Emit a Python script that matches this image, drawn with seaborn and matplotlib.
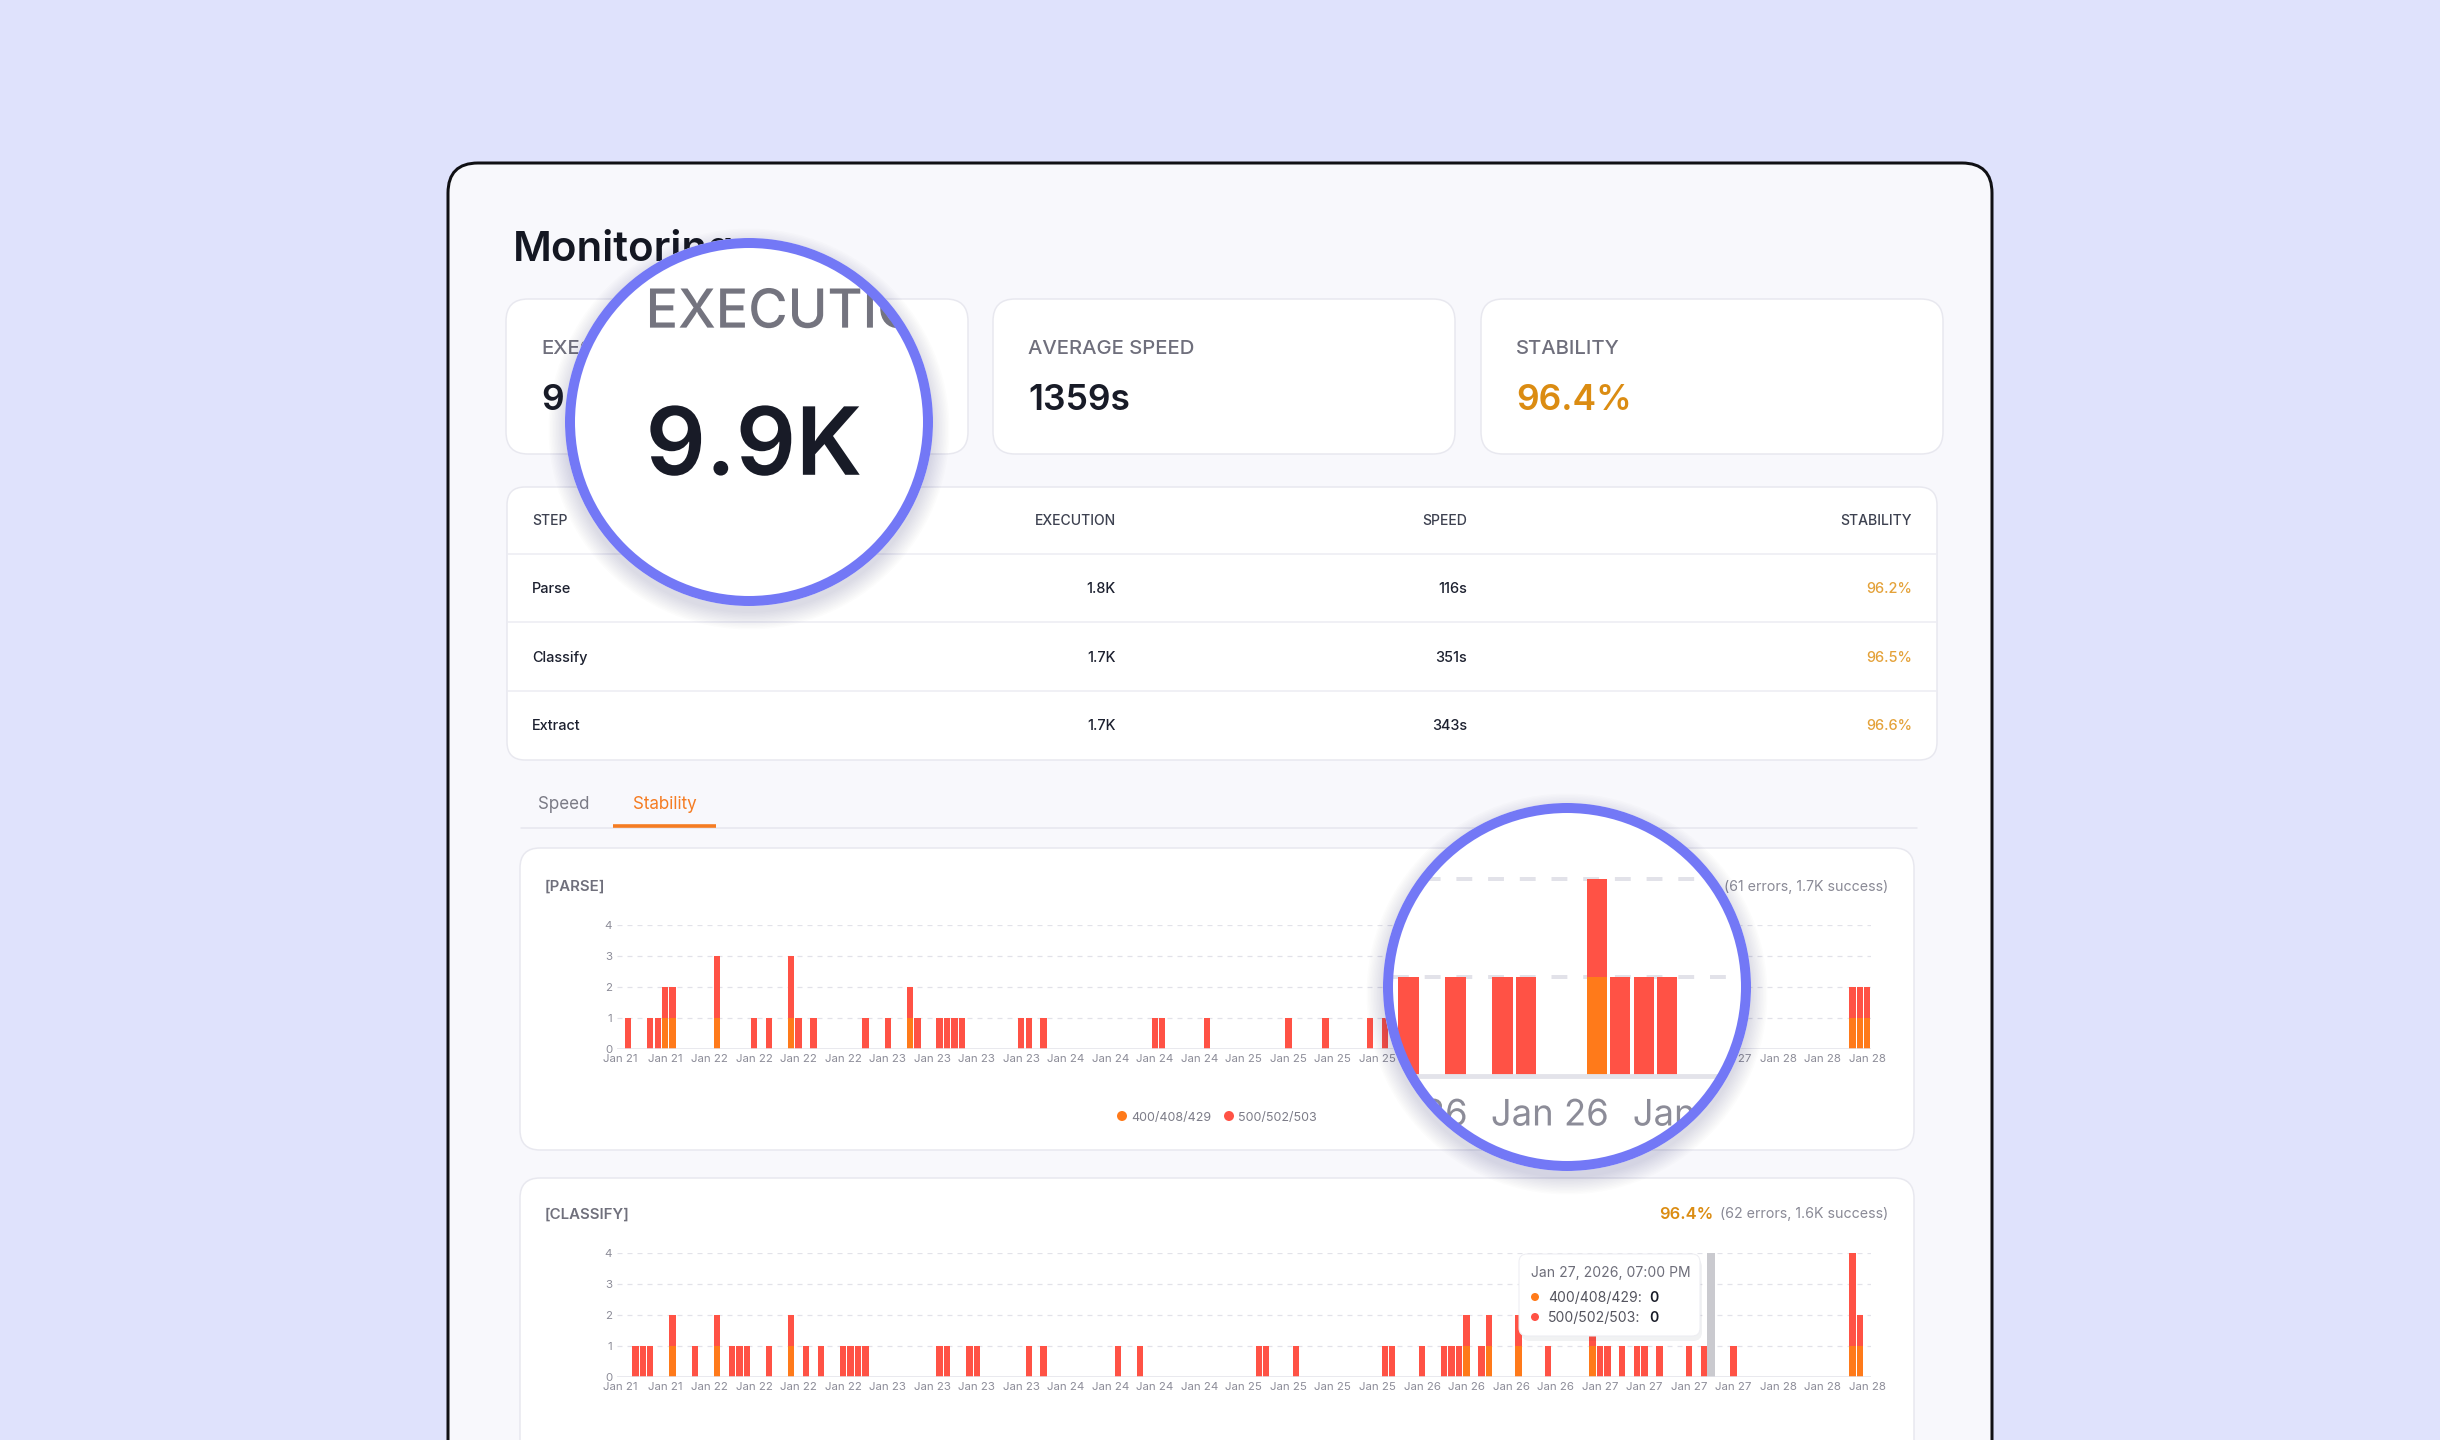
import numpy as np
import pandas as pd
import seaborn as sns
import matplotlib
matplotlib.use("Agg")
import matplotlib.pyplot as plt
from matplotlib.patches import FancyBboxPatch, Circle, PathPatch
from matplotlib.textpath import TextPath
from matplotlib.font_manager import FontProperties
from matplotlib.transforms import Affine2D

# ---------------- values ----------------
page_title = "Monitoring"
kpi_labels = ["EXECUTION", "AVERAGE SPEED", "STABILITY"]
kpi_values = ["9.9K", "1359s", "96.4%"]

table_header = ["STEP", "EXECUTION", "SPEED", "STABILITY"]
steps = ["Parse", "Classify", "Extract"]
step_execution = ["1.8K", "1.7K", "1.7K"]
step_speed = ["116s", "351s", "343s"]
step_stability = ["96.2%", "96.5%", "96.6%"]

tab_names = ["Speed", "Stability"]
codes = ["400/408/429", "500/502/503"]

# one bar per hour, hour 0 = Jan 21 04:00 PM, one x label every 6 hours
tick_labels = ["Jan 21", "Jan 21",
               "Jan 22", "Jan 22", "Jan 22", "Jan 22",
               "Jan 23", "Jan 23", "Jan 23", "Jan 23",
               "Jan 24", "Jan 24", "Jan 24", "Jan 24",
               "Jan 25", "Jan 25", "Jan 25", "Jan 25",
               "Jan 26", "Jan 26", "Jan 26", "Jan 26",
               "Jan 27", "Jan 27", "Jan 27", "Jan 27",
               "Jan 28", "Jan 28", "Jan 28"]

parse_title = "[PARSE]"
parse_rate = "96.2%"
parse_note = "(61 errors, 1.7K success)"
parse_hours = [1, 4, 5, 6, 7, 13, 18, 20, 23, 24, 26, 33, 36, 39, 40, 43, 44, 45, 46, 54,
               55, 57, 72, 73, 79, 90, 95, 101, 103, 120, 122, 124, 125, 128, 129, 130, 131, 166, 167, 168]
parse_4xx = [0, 0, 0, 1, 1, 1, 0, 0, 1, 0, 0, 0, 0, 1, 0, 0, 0, 0, 0, 0,
             0, 0, 0, 0, 0, 0, 0, 0, 0, 0, 0, 0, 0, 1, 0, 0, 0, 1, 1, 1]
parse_5xx = [1, 1, 1, 1, 1, 2, 1, 1, 2, 1, 1, 1, 1, 1, 1, 1, 1, 1, 1, 1,
             1, 1, 1, 1, 1, 1, 1, 1, 1, 1, 1, 1, 1, 1, 1, 1, 1, 1, 1, 1]

classify_title = "[CLASSIFY]"
classify_rate = "96.4%"
classify_note = "(62 errors, 1.6K success)"
classify_hours = [2, 3, 4, 7, 10, 13, 15, 16, 17, 20, 23, 25, 27, 30, 31, 32, 33, 43, 44, 47,
                  48, 55, 57, 67, 70, 86, 87, 91, 103, 104, 108, 111, 112, 113, 114, 116, 117, 121, 125, 131,
                  132, 133, 135, 137, 138, 140, 144, 146, 150, 166, 167]
classify_4xx = [0, 0, 0, 1, 0, 1, 0, 0, 0, 0, 1, 0, 0, 0, 0, 0, 0, 0, 0, 0,
                0, 0, 0, 0, 0, 0, 0, 0, 0, 0, 0, 0, 0, 0, 1, 0, 1, 1, 0, 1,
                0, 0, 0, 0, 0, 0, 0, 0, 0, 1, 1]
classify_5xx = [1, 1, 1, 1, 1, 1, 1, 1, 1, 1, 1, 1, 1, 1, 1, 1, 1, 1, 1, 1,
                1, 1, 1, 1, 1, 1, 1, 1, 1, 1, 1, 1, 1, 1, 1, 1, 1, 1, 1, 1,
                1, 1, 1, 1, 1, 1, 1, 1, 1, 3, 1]

hover_hour = 147
tooltip_title = "Jan 27, 2026, 07:00 PM"
tooltip_counts = [0, 0]

# ---------------- look ----------------
W, H = 2440, 1440
BG = "#DFE2FC"
WINDOW = "#F8F8FC"
CARD_EDGE = "#E8E8EF"
INK = "#181B27"
MUTED = "#6F6F7C"
SOFT = "#8A8A96"
TICK = "#8C8C98"
GOLD = "#DB8C12"
TABLE_GOLD = "#E4A23A"
ORANGE = "#FF7A1A"
RED = "#FF5245"
ACCENT = "#F57C22"
GRID = "#E2E2E9"
RING = "#7378F6"
FONT = ["Inter", "DejaVu Sans"]

sns.set_theme(style="white")
plt.rcParams["font.family"] = FONT

# chart geometry in page pixels
H0_PX, H_PX, V_PX = 620.6, 7.42, 31.0
PARSE_BASE, CLASSIFY_BASE = 1049, 1377
TICK_PX = 11.5
LABEL_DY = 11.5
KPI_LABEL_PX, KPI_VALUE_PX = 20.3, 35.5

fig = plt.figure(figsize=(W / 100, H / 100), dpi=100, facecolor=BG)


def frac(x0, y0, x1, y1):
    return [x0 / W, 1 - y1 / H, (x1 - x0) / W, (y1 - y0) / H]


def pixel_axes(z):
    a = fig.add_axes([0, 0, 1, 1], zorder=z)
    a.set_xlim(0, W)
    a.set_ylim(H, 0)
    a.axis("off")
    a.set_autoscale_on(False)
    return a


def rbox(ax, x0, y0, x1, y1, r, fc, ec="none", lw=0, z=1, alpha=1):
    ax.add_patch(FancyBboxPatch((x0, y0), x1 - x0, y1 - y0,
                                boxstyle=f"round,pad=0,rounding_size={r}",
                                fc=fc, ec=ec, lw=lw * 0.72, zorder=z, alpha=alpha))


def ptext(ax, x, y, s, px, color, weight="normal", ha="left", z=3):
    # y is the visual middle of the capitals
    ax.text(x, y + 0.364 * px, s, fontsize=px * 0.72, color=color,
            fontweight=weight, ha=ha, va="baseline", zorder=z)


def path_text(ax, x, y, s, px, color, clip, weight="normal", ha="left"):
    # text as a path so the lens circle can clip it
    tp = TextPath((0, 0), s, size=px, prop=FontProperties(family=FONT, weight=weight))
    ext = tp.get_extents()
    dx = {"left": 0.0, "center": -(ext.x0 + ext.x1) / 2, "right": -ext.x1}[ha]
    tr = Affine2D().translate(dx, 0).scale(1, -1).translate(x, y + 0.364 * px) + ax.transData
    p = PathPatch(tp, transform=tr, facecolor=color, edgecolor="none", zorder=4)
    ax.add_patch(p)
    p.set_clip_path(clip)


def bar_chart(ax, hours, c4, c5):
    df = pd.DataFrame({
        "hour": hours + hours,
        "code": [codes[0]] * len(hours) + [codes[1]] * len(hours),
        "count": c4 + c5,
    })
    sns.histplot(data=df, x="hour", weights="count", hue="code",
                 hue_order=[codes[1], codes[0]],
                 palette={codes[0]: ORANGE, codes[1]: RED},
                 multiple="stack", discrete=True, binrange=(0, 168),
                 shrink=0.86, alpha=1, linewidth=0, legend=False, ax=ax)


def grid_lines(ax, scale=1.0):
    for v in range(1, 5):
        ax.axhline(v, color=GRID, lw=0.9 * scale, ls=(0, (4, 4)), zorder=0)
    ax.axhline(0, color="#E3E3EA", lw=1.1 * scale, zorder=3)


def style_chart(ax):
    ax.set_xlim(-0.5, 168.5)
    ax.set_ylim(0, 4)
    grid_lines(ax)
    ax.set_xticks(range(0, 169, 6))
    ax.set_xticklabels(tick_labels)
    ax.set_yticks(range(5))
    ax.tick_params(length=0, labelsize=TICK_PX * 0.72, colors=TICK, pad=3.5)
    ax.set_xlabel("")
    ax.set_ylabel("")
    sns.despine(ax=ax, left=True, bottom=True)
    ax.patch.set_alpha(0)


def chart_rect(base):
    return frac(H0_PX - 0.5 * H_PX, base - 4 * V_PX, H0_PX + 168.5 * H_PX, base)


# ---------------- page ----------------
page = pixel_axes(0)
rbox(page, 448, 163, 1992, 1520, 30, WINDOW, "#101014", 3)
ptext(page, 513, 246, page_title, 42, "#141722", "semibold")

kpi_x = [506, 993, 1481]
for i in range(3):
    x = kpi_x[i]
    rbox(page, x, 299, x + 462, 454, 22, "white", CARD_EDGE, 1.5)
    ptext(page, x + 35, 347, kpi_labels[i], KPI_LABEL_PX, MUTED, "medium")
    ptext(page, x + 35, 397, kpi_values[i], KPI_VALUE_PX, GOLD if i == 2 else INK, "semibold")

# step table
rbox(page, 507, 487, 1937, 760, 18, "white", CARD_EDGE, 1.5)
for y in [554, 622, 691]:
    page.plot([508, 1936], [y, y], color="#ECECF2", lw=1.1, zorder=2)
col_x = [532, 1116, 1467, 1912]
col_ha = ["left", "right", "right", "right"]
for j in range(4):
    ptext(page, col_x[j], 520, table_header[j], 14, "#3D4150", "medium", col_ha[j])
row_y = [588, 657, 725]
for i in range(3):
    cells = [steps[i], step_execution[i], step_speed[i], step_stability[i]]
    for j in range(4):
        ptext(page, col_x[j], row_y[i], cells[j], 14.5,
              TABLE_GOLD if j == 3 else "#1D2130", "medium", col_ha[j])

# tabs
ptext(page, 538, 803, tab_names[0], 17, "#7B7B86")
ptext(page, 633, 803, tab_names[1], 17, ACCENT)
page.plot([521, 1917], [828, 828], color="#E7E7EE", lw=1.1, zorder=2)
page.plot([613, 716], [826, 826], color=ACCENT, lw=2.6, zorder=3, solid_capstyle="butt")

# chart cards
rbox(page, 520, 848, 1914, 1150, 20, "white", CARD_EDGE, 1.5)
rbox(page, 520, 1178, 1914, 1520, 20, "white", CARD_EDGE, 1.5)
ptext(page, 545, 885, parse_title, 15, "#70707C", "semibold")
ptext(page, 1888, 886, parse_note, 14.2, SOFT, ha="right")
ptext(page, 1712, 886, parse_rate, 16, GOLD, "semibold", "right")
ptext(page, 545, 1213, classify_title, 15, "#70707C", "semibold")
ptext(page, 1888, 1213, classify_note, 14.2, SOFT, ha="right")
ptext(page, 1713, 1213, classify_rate, 16.5, GOLD, "semibold", "right")

# legend under the parse chart
for x, col, lab in [(1122, ORANGE, codes[0]), (1229, RED, codes[1])]:
    page.add_patch(Circle((x, 1116), 5, fc=col, lw=0, zorder=3))
    ptext(page, x + 9, 1116, lab, 12.5, "#7C7C88")

# ---------------- bar charts ----------------
ax_p = fig.add_axes(chart_rect(PARSE_BASE), zorder=1)
bar_chart(ax_p, parse_hours, parse_4xx, parse_5xx)
style_chart(ax_p)

ax_c = fig.add_axes(chart_rect(CLASSIFY_BASE), zorder=1)
bar_chart(ax_c, classify_hours, classify_4xx, classify_5xx)
style_chart(ax_c)
ax_c.axvspan(hover_hour - 0.55, hover_hour + 0.55, color="#CACACF", lw=0, zorder=0.5)

# ---------------- overlay: tooltip + lens bases ----------------
over = pixel_axes(2)
rbox(over, 1521, 1258, 1702, 1341, 9, "#20223A", z=1, alpha=0.06)
rbox(over, 1519, 1254, 1700, 1336, 8, "white", "#EDEDF2", 1, z=2)
ptext(over, 1531, 1272, tooltip_title, 14, "#6E6E7A")
for k, (y, col) in enumerate([(1297, ORANGE), (1317, RED)]):
    over.add_patch(Circle((1535, y), 4, fc=col, lw=0, zorder=3))
    ptext(over, 1548, y, codes[k] + ":", 14, "#55555F")
    ptext(over, 1649, y, str(tooltip_counts[k]), 14, INK, "semibold")

R_OUT, R_IN = 184, 174
L1, S1, M1 = (1567, 987), (1561, 1021), 3.17   # chart lens: centre, source point, zoom
L2, S2, M2 = (749, 422), (580, 390), 2.65      # KPI lens
for c in [L1, L2]:
    for i in range(12):
        over.add_patch(Circle((c[0], c[1] + 7), R_OUT + 1.5 * i, fc="#1E2150", alpha=0.012, lw=0, zorder=5))
    over.add_patch(Circle(c, R_OUT, fc="white", lw=0, zorder=6))

clip1 = Circle(L1, R_IN + 1, transform=over.transData)
clip2 = Circle(L2, R_IN + 1, transform=over.transData)

# ---------------- lens over the parse chart ----------------
lens1 = fig.add_axes(frac(L1[0] - R_IN, L1[1] - R_IN, L1[0] + R_IN, L1[1] + R_IN), zorder=3)
bar_chart(lens1, parse_hours, parse_4xx, parse_5xx)
grid_lines(lens1, M1)
lens1.set_xlim((S1[0] - R_IN / M1 - H0_PX) / H_PX, (S1[0] + R_IN / M1 - H0_PX) / H_PX)
lens1.set_ylim((PARSE_BASE - (S1[1] + R_IN / M1)) / V_PX, (PARSE_BASE - (S1[1] - R_IN / M1)) / V_PX)
lens1.axis("off")
for art in list(lens1.patches) + list(lens1.lines):
    art.set_clip_path(clip1)

lens_txt = pixel_axes(4)
for k, lab in enumerate(tick_labels):
    sx = H0_PX + 6 * k * H_PX
    lx = L1[0] + M1 * (sx - S1[0])
    ly = L1[1] + M1 * (PARSE_BASE + LABEL_DY - S1[1])
    if abs(lx - L1[0]) < R_IN + 150:
        path_text(lens_txt, lx, ly, lab, TICK_PX * M1, TICK, clip1, ha="center")

# ---------------- lens over the KPI card ----------------
for i in range(3):
    sx = kpi_x[i] + 35
    lx = L2[0] + M2 * (sx - S2[0])
    path_text(lens_txt, lx, L2[1] + M2 * (347 - S2[1]), kpi_labels[i], KPI_LABEL_PX * M2, "#74747F", clip2, "medium")
    path_text(lens_txt, lx, L2[1] + M2 * (397 - S2[1]), kpi_values[i], KPI_VALUE_PX * M2,
              GOLD if i == 2 else INK, clip2, "semibold")

# ---------------- lens rings ----------------
rings = pixel_axes(5)
for c in [L1, L2]:
    rings.add_patch(Circle(c, (R_OUT + R_IN) / 2, fill=False, ec=RING, lw=(R_OUT - R_IN) * 0.72, zorder=5))

fig.savefig("out.png", dpi=100, facecolor=BG)
